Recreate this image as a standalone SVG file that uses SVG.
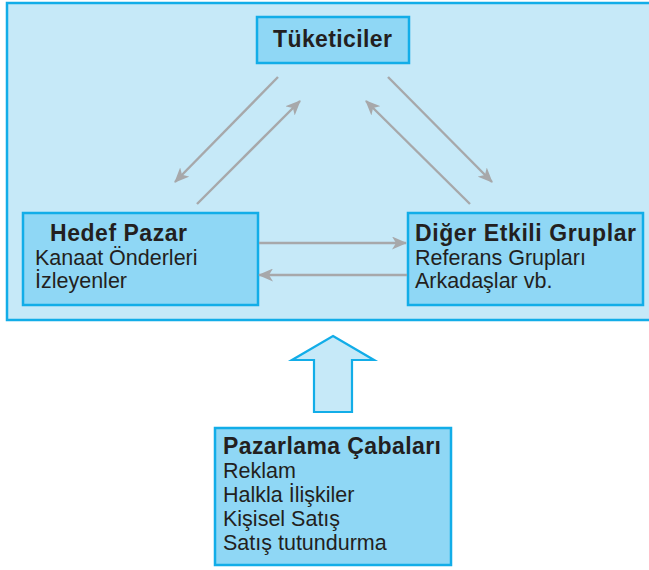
<svg xmlns="http://www.w3.org/2000/svg" width="649" height="570" viewBox="0 0 649 570">
<style>
.frame{fill:#c6e9f8;stroke:#12ade8;stroke-width:2.5}
.node{fill:#8fd7f5;stroke:#12ade8;stroke-width:2.5}
.b{font-family:"Liberation Sans",Arial,sans-serif;font-weight:bold;font-size:23px;fill:#231f20}
.r{font-family:"Liberation Sans",Arial,sans-serif;font-size:21.5px;fill:#231f20}
.c{fill:none;stroke:#a7a8aa;stroke-width:2.4}
</style>
<defs>
<marker id="ah" viewBox="0 0 15 13" refX="14" refY="6.5" markerWidth="15" markerHeight="13" markerUnits="userSpaceOnUse" orient="auto">
<path d="M0,0 L15,6.5 L0,13 L4,6.5 Z" fill="#a7a8aa"/>
</marker>
</defs>
<rect class="frame" x="7" y="3" width="650" height="317"/>
<g id="tuketiciler">
<rect class="node" x="257" y="17" width="152" height="46"/>
<text class="b" x="273" y="47" textLength="119" lengthAdjust="spacing">Tüketiciler</text>
</g>
<g id="hedef-pazar">
<rect class="node" x="23" y="213" width="235" height="92"/>
<text class="b" x="50" y="241" textLength="137" lengthAdjust="spacing">Hedef Pazar</text>
<text class="r" x="35" y="265">Kanaat Önderleri</text>
<text class="r" x="35" y="288">İzleyenler</text>
</g>
<g id="diger-gruplar">
<rect class="node" x="408" y="213" width="235" height="92"/>
<text class="b" x="415" y="241" textLength="221" lengthAdjust="spacing">Diğer Etkili Gruplar</text>
<text class="r" x="415" y="265">Referans Grupları</text>
<text class="r" x="415" y="288">Arkadaşlar vb.</text>
</g>
<g id="pazarlama">
<rect class="node" x="215" y="428" width="236" height="137"/>
<text class="b" x="223" y="454" textLength="218" lengthAdjust="spacing">Pazarlama Çabaları</text>
<text class="r" x="223" y="478">Reklam</text>
<text class="r" x="223" y="502">Halkla İlişkiler</text>
<text class="r" x="223" y="526">Kişisel Satış</text>
<text class="r" x="223" y="550">Satış tutundurma</text>
</g>
<g id="connectors">
<line class="c" x1="278" y1="77" x2="175" y2="182" marker-end="url(#ah)"/>
<line class="c" x1="197" y1="204" x2="300" y2="101" marker-end="url(#ah)"/>
<line class="c" x1="470" y1="204" x2="366" y2="101" marker-end="url(#ah)"/>
<line class="c" x1="388" y1="77" x2="492" y2="182" marker-end="url(#ah)"/>
<line class="c" x1="259" y1="243" x2="406" y2="243" marker-end="url(#ah)"/>
<line class="c" x1="407" y1="275" x2="259" y2="275" marker-end="url(#ah)"/>
<path d="M333,336 L374,360 L352,360 L352,412 L314,412 L314,360 L292,360 Z" fill="#c6e9f8" stroke="#12ade8" stroke-width="2.2"/>
</g>
</svg>
